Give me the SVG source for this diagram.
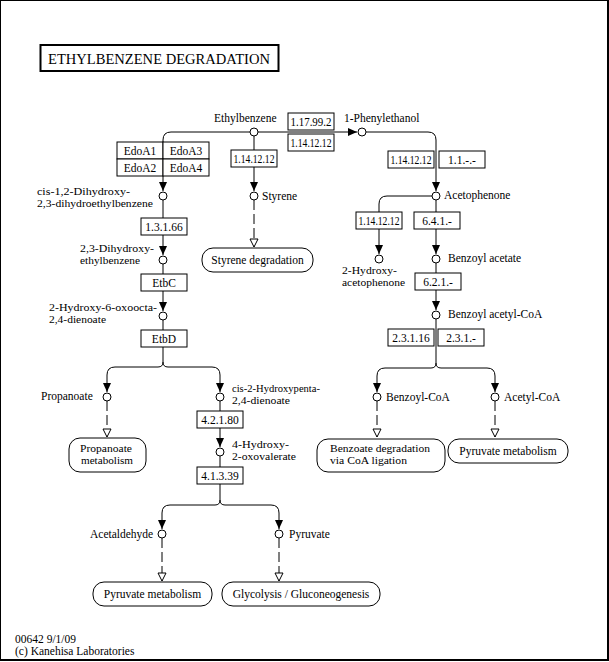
<svg xmlns="http://www.w3.org/2000/svg" width="609" height="662" viewBox="0 0 609 662">
<style>
text{font-family:"Liberation Serif","Times New Roman",serif;font-size:11.5px;fill:#000}
.t{font-size:14px}
.s{font-size:11px}
.c{text-anchor:middle}
.cpd{fill:#fff;stroke:#000;stroke-width:1}
.enz{fill:#fff;stroke:#000;stroke-width:1}
.map{fill:#fff;stroke:#000;stroke-width:1}
.ln{fill:none;stroke:#000;stroke-width:1;marker-end:url(#ah)}
.nl{fill:none;stroke:#000;stroke-width:1}
.dl{fill:none;stroke:#000;stroke-width:1;stroke-dasharray:10,4;marker-end:url(#oh)}
</style>
<defs>
<marker id="ah" markerUnits="userSpaceOnUse" viewBox="0 0 9 8" refX="9" refY="4" markerWidth="9" markerHeight="8" orient="auto"><path d="M0,0 L9,4 L0,8 z" fill="#000"/></marker>
<marker id="oh" markerUnits="userSpaceOnUse" viewBox="-1 -1 10 10" refX="8" refY="4" markerWidth="10" markerHeight="10" orient="auto"><path d="M0,0 L8,4 L0,8 z" fill="#fff" stroke="#000" stroke-width="1"/></marker>
</defs>
<rect x="0" y="0" width="608" height="660" fill="#fff" stroke="#000" stroke-width="2"/>
<g id="title"><rect x="40.5" y="45" width="238" height="26" fill="#fff" stroke="#000" stroke-width="2"/><text class="t" x="48" y="64" textLength="222" lengthAdjust="spacingAndGlyphs">ETHYLBENZENE DEGRADATION</text></g>
<g id="connectors">
<path class="ln" d="M250,132 H171 Q163,132 163,140 V191"/>
<path class="ln" d="M254,136 V191"/>
<path class="ln" d="M258,132 H357"/>
<path class="ln" d="M366,132 H428 Q436,132 436,140 V191"/>
<path class="ln" d="M432,196 H387 Q379,196 379,204 V254"/>
<path class="ln" d="M436,200 V254"/>
<path class="ln" d="M436,263 V310"/>
<path class="nl" d="M436,319 V363"/>
<path class="ln" d="M436,363 Q436,368 431,368 H385 Q377,368 377,376 V392"/>
<path class="ln" d="M436,363 Q436,368 441,368 H487 Q495,368 495,376 V392"/>
<path class="ln" d="M163,200 V255"/>
<path class="ln" d="M163,264 V311"/>
<path class="nl" d="M163,320 V362"/>
<path class="ln" d="M163,362 Q163,367 158,367 H115 Q107,367 107,375 V392"/>
<path class="ln" d="M163,362 Q163,367 168,367 H212 Q220,367 220,375 V392"/>
<path class="ln" d="M220,401 V447"/>
<path class="nl" d="M220,456 V500"/>
<path class="ln" d="M220,500 Q220,505 215,505 H170 Q162,505 162,513 V529"/>
<path class="ln" d="M220,500 Q220,505 225,505 H271 Q279,505 279,513 V529"/>
<path class="dl" d="M254,200 V247"/>
<path class="dl" d="M107,401 V437"/>
<path class="dl" d="M377,401 V437"/>
<path class="dl" d="M495,401 V437"/>
<path class="dl" d="M162,538 V581"/>
<path class="dl" d="M279,538 V581"/>
</g>
<g id="cpd-ethylbenzene"><circle class="cpd" cx="254" cy="132" r="4"/><text x="214" y="122">Ethylbenzene</text></g>
<g id="cpd-phenylethanol"><circle class="cpd" cx="362" cy="132" r="4"/><text x="344" y="122">1-Phenylethanol</text></g>
<g id="cpd-cis12"><circle class="cpd" cx="163" cy="196" r="4"/><text class="s" x="37" y="195" textLength="93" lengthAdjust="spacingAndGlyphs">cis-1,2-Dihydroxy-</text><text class="s" x="37" y="207" textLength="116" lengthAdjust="spacingAndGlyphs">2,3-dihydroethylbenzene</text></g>
<g id="cpd-styrene"><circle class="cpd" cx="254" cy="196" r="4"/><text x="262" y="200">Styrene</text></g>
<g id="cpd-acetophenone"><circle class="cpd" cx="436" cy="196" r="4"/><text x="444" y="199">Acetophenone</text></g>
<g id="cpd-23dihydroxy"><circle class="cpd" cx="163" cy="260" r="4"/><text class="s" x="80" y="252" textLength="74" lengthAdjust="spacingAndGlyphs">2,3-Dihydroxy-</text><text class="s" x="80" y="264" textLength="60" lengthAdjust="spacingAndGlyphs">ethylbenzene</text></g>
<g id="cpd-2hydroxyacetophenone"><circle class="cpd" cx="379" cy="259" r="4"/><text class="s" x="342" y="274" textLength="55" lengthAdjust="spacingAndGlyphs">2-Hydroxy-</text><text class="s" x="342" y="286" textLength="63" lengthAdjust="spacingAndGlyphs">acetophenone</text></g>
<g id="cpd-benzoylacetate"><circle class="cpd" cx="436" cy="259" r="4"/><text x="448" y="262">Benzoyl acetate</text></g>
<g id="cpd-2hydroxy6oxo"><circle class="cpd" cx="163" cy="316" r="4"/><text class="s" x="49" y="311" textLength="108" lengthAdjust="spacingAndGlyphs">2-Hydroxy-6-oxoocta-</text><text class="s" x="49" y="323" textLength="57" lengthAdjust="spacingAndGlyphs">2,4-dienoate</text></g>
<g id="cpd-benzoylacetylcoa"><circle class="cpd" cx="436" cy="315" r="4"/><text x="448" y="318">Benzoyl acetyl-CoA</text></g>
<g id="cpd-propanoate"><circle class="cpd" cx="107" cy="397" r="4"/><text x="41" y="400">Propanoate</text></g>
<g id="cpd-cis2"><circle class="cpd" cx="220" cy="397" r="4"/><text class="s" x="232" y="392" textLength="88" lengthAdjust="spacingAndGlyphs">cis-2-Hydroxypenta-</text><text class="s" x="232" y="404" textLength="58" lengthAdjust="spacingAndGlyphs">2,4-dienoate</text></g>
<g id="cpd-benzoylcoa"><circle class="cpd" cx="377" cy="397" r="4"/><text x="386" y="401">Benzoyl-CoA</text></g>
<g id="cpd-acetylcoa"><circle class="cpd" cx="495" cy="397" r="4"/><text x="504" y="401">Acetyl-CoA</text></g>
<g id="cpd-4hydroxy"><circle class="cpd" cx="220" cy="452" r="4"/><text class="s" x="232" y="448" textLength="57" lengthAdjust="spacingAndGlyphs">4-Hydroxy-</text><text class="s" x="232" y="460" textLength="64" lengthAdjust="spacingAndGlyphs">2-oxovalerate</text></g>
<g id="cpd-acetaldehyde"><circle class="cpd" cx="162" cy="534" r="4"/><text x="90" y="538">Acetaldehyde</text></g>
<g id="cpd-pyruvate"><circle class="cpd" cx="279" cy="534" r="4"/><text x="289" y="538">Pyruvate</text></g>
<g id="enz-edoa1"><rect class="enz" x="117" y="142" width="46" height="17"/><text class="c" x="140" y="155">EdoA1</text></g>
<g id="enz-edoa3"><rect class="enz" x="163" y="142" width="46" height="17"/><text class="c" x="186" y="155">EdoA3</text></g>
<g id="enz-edoa2"><rect class="enz" x="117" y="159" width="46" height="17"/><text class="c" x="140" y="172">EdoA2</text></g>
<g id="enz-edoa4"><rect class="enz" x="163" y="159" width="46" height="17"/><text class="c" x="186" y="172">EdoA4</text></g>
<g id="enz-styrene"><rect class="enz" x="231" y="150" width="46" height="17"/><text class="c" x="254" y="163" textLength="41" lengthAdjust="spacingAndGlyphs">1.14.12.12</text></g>
<g id="enz-1.17.99.2"><rect class="enz" x="288" y="113" width="46" height="17"/><text class="c" x="311" y="126" textLength="41" lengthAdjust="spacingAndGlyphs">1.17.99.2</text></g>
<g id="enz-phe1"><rect class="enz" x="288" y="134" width="46" height="17"/><text class="c" x="311" y="147" textLength="41" lengthAdjust="spacingAndGlyphs">1.14.12.12</text></g>
<g id="enz-aceto1"><rect class="enz" x="388" y="151" width="46" height="17"/><text class="c" x="411" y="164" textLength="41" lengthAdjust="spacingAndGlyphs">1.14.12.12</text></g>
<g id="enz-1.1"><rect class="enz" x="439" y="151" width="46" height="17"/><text class="c" x="462" y="164">1.1.-.-</text></g>
<g id="enz-hydroxyaceto"><rect class="enz" x="356" y="212" width="46" height="17"/><text class="c" x="379" y="225" textLength="41" lengthAdjust="spacingAndGlyphs">1.14.12.12</text></g>
<g id="enz-6.4.1"><rect class="enz" x="414" y="212" width="46" height="17"/><text class="c" x="437" y="225">6.4.1.-</text></g>
<g id="enz-6.2.1"><rect class="enz" x="415" y="273" width="46" height="17"/><text class="c" x="438" y="286">6.2.1.-</text></g>
<g id="enz-2.3.1.16"><rect class="enz" x="388" y="329" width="46" height="17"/><text class="c" x="411" y="342">2.3.1.16</text></g>
<g id="enz-2.3.1"><rect class="enz" x="438" y="329" width="46" height="17"/><text class="c" x="461" y="342">2.3.1.-</text></g>
<g id="enz-1.3.1.66"><rect class="enz" x="141" y="218" width="46" height="17"/><text class="c" x="164" y="231">1.3.1.66</text></g>
<g id="enz-etbc"><rect class="enz" x="141" y="274" width="46" height="17"/><text class="c" x="164" y="287">EtbC</text></g>
<g id="enz-etbd"><rect class="enz" x="141" y="330" width="46" height="17"/><text class="c" x="164" y="343">EtbD</text></g>
<g id="enz-4.2.1.80"><rect class="enz" x="197" y="411" width="46" height="17"/><text class="c" x="220" y="424">4.2.1.80</text></g>
<g id="enz-4.1.3.39"><rect class="enz" x="197" y="467" width="46" height="17"/><text class="c" x="220" y="480">4.1.3.39</text></g>
<g id="map-styrene"><rect class="map" x="202" y="248" width="111" height="24" rx="11"/><text class="c" x="257.5" y="264">Styrene degradation</text></g>
<g id="map-propanoate"><rect class="map" x="69" y="438" width="77" height="34" rx="11"/><text class="s" x="80" y="452" textLength="52" lengthAdjust="spacingAndGlyphs">Propanoate</text><text class="s" x="81" y="464" textLength="52" lengthAdjust="spacingAndGlyphs">metabolism</text></g>
<g id="map-benzoate"><rect class="map" x="317" y="439" width="128" height="33" rx="11"/><text class="s" x="330" y="452" textLength="100" lengthAdjust="spacingAndGlyphs">Benzoate degradation</text><text class="s" x="330" y="464" textLength="77" lengthAdjust="spacingAndGlyphs">via CoA ligation</text></g>
<g id="map-pyruvate1"><rect class="map" x="448" y="439" width="120" height="24" rx="11"/><text class="c" x="508" y="455">Pyruvate metabolism</text></g>
<g id="map-pyruvate2"><rect class="map" x="93" y="582" width="119" height="24" rx="11"/><text class="c" x="152.5" y="598">Pyruvate metabolism</text></g>
<g id="map-glycolysis"><rect class="map" x="222" y="582" width="158" height="24" rx="11"/><text class="c" x="301" y="598">Glycolysis / Gluconeogenesis</text></g>
<g id="footer"><text x="15" y="643">00642 9/1/09</text><text x="15" y="655">(c) Kanehisa Laboratories</text></g>
</svg>
